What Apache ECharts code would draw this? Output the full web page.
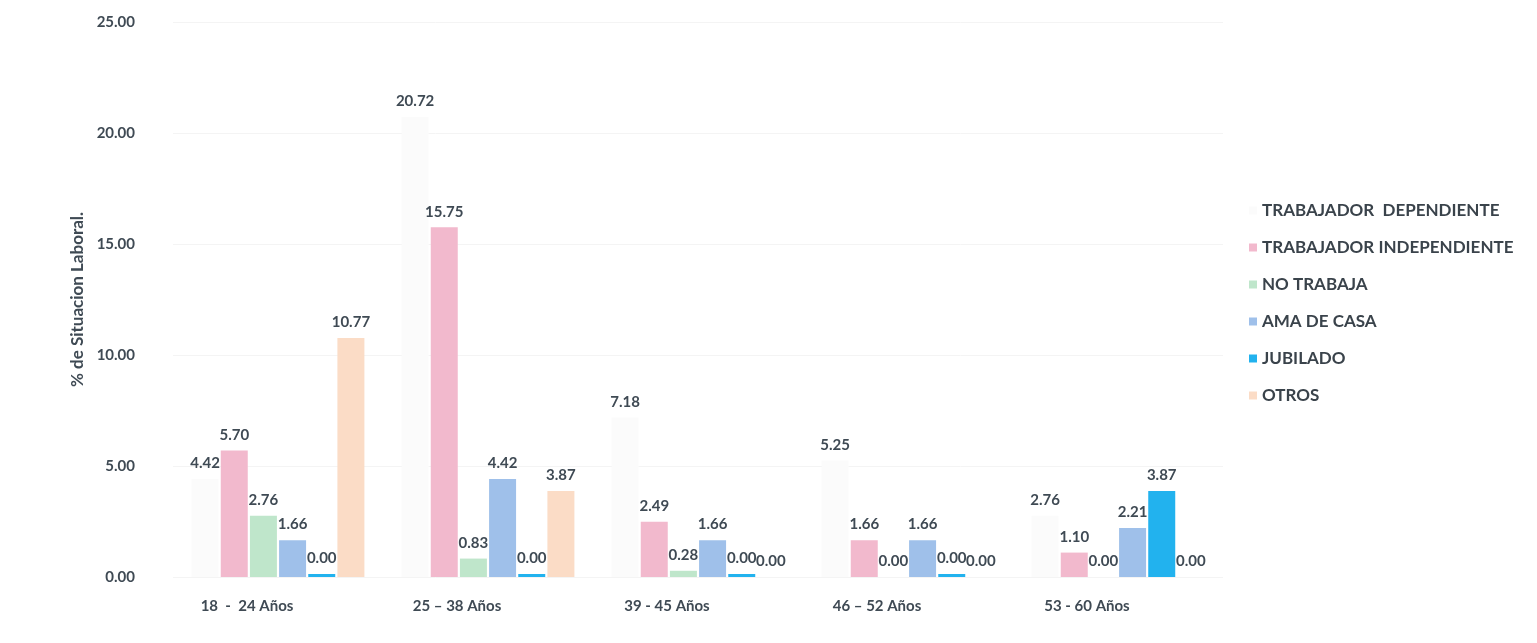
<!DOCTYPE html>
<html lang="es">
<head>
  <meta charset="UTF-8">
  <title>Situacion laboral por edad</title>
  <script src="https://cdn.jsdelivr.net/npm/echarts@6/dist/echarts.min.js"></script>
  <style>
    * { padding: 0; margin: 0; }
    body { background: #fff; }
    #box { width: 1537px; height: 643px; }
  </style>
</head>
<body>
  <div id="box"></div>
  <script>
    // grupos de edad (eje x)
    var categories = ['18  -  24 Años', '25 – 38 Años', '39 - 45 Años', '46 – 52 Años', '53 - 60 Años']
    var seriesNames = ['TRABAJADOR  DEPENDIENTE', 'TRABAJADOR INDEPENDIENTE', 'NO TRABAJA', 'AMA DE CASA', 'JUBILADO', 'OTROS']
    // valores (%)
    var dependiente = [4.42, 20.72, 7.18, 5.25, 2.76]
    var independiente = [5.70, 15.75, 2.49, 1.66, 1.10]
    var noTrabaja = [2.76, 0.83, 0.28, 0.00, 0.00]
    var amaDeCasa = [1.66, 4.42, 1.66, 1.66, 2.21]
    var jubilado = [0.00, 0.00, 0.00, 0.00, 3.87]
    var otros = [10.77, 3.87, 0.00, 0.00, 0.00]
    var yTicks = [0, 5, 10, 15, 20, 25]

    var colors = ['#fbfbfb', '#f2b9cd', '#bfe6cb', '#9fc0ea', '#22b2ee', '#fbdcc6']
    var allData = [dependiente, independiente, noTrabaja, amaDeCasa, jubilado, otros]

    var series = []
    for (let i = 0; i < allData.length; i++) {
      series.push({
        name: seriesNames[i],
        type: 'bar',
        data: allData[i],
        barWidth: 27,
        barGap: '8%',
        barMinHeight: i === 4 ? 3 : 0,
        itemStyle: { color: colors[i] },
        label: {
          show: true,
          position: 'top',
          distance: 8,
          fontFamily: 'Lato',
          fontWeight: 'bold',
          fontSize: 15,
          color: '#3f4a54',
          formatter: function (p) { return p.value.toFixed(2) }
        }
      })
    }

    var mCharts = echarts.init(document.getElementById('box'))
    var option = {
      backgroundColor: '#fff',
      animation: false,
      grid: { left: 173, right: 314, top: 22, bottom: 66 },
      legend: {
        orient: 'vertical',
        left: 1244,
        top: 197,
        itemWidth: 8,
        itemHeight: 8,
        itemGap: 20,
        icon: 'rect',
        textStyle: { fontFamily: 'Lato', fontWeight: 'bold', fontSize: 17, color: '#3a434b' },
        data: seriesNames
      },
      xAxis: {
        type: 'category',
        data: categories,
        axisLine: { show: false },
        axisTick: { show: false },
        axisLabel: {
          margin: 22,
          fontFamily: 'Lato',
          fontWeight: 'bold',
          fontSize: 15,
          color: '#3f4a54',
          padding: [0, 62, 0, 0]
        }
      },
      yAxis: {
        type: 'value',
        min: yTicks[0],
        max: yTicks[yTicks.length - 1],
        interval: 5,
        name: '% de Situacion Laboral.',
        nameLocation: 'middle',
        nameGap: 64,
        nameTextStyle: { fontFamily: 'Lato', fontWeight: 'bold', fontSize: 17, color: '#3f4a54' },
        axisLine: { show: false },
        axisTick: { show: false },
        splitLine: { lineStyle: { color: '#f4f4f4' } },
        axisLabel: {
          margin: 38,
          fontFamily: 'Lato',
          fontWeight: 'bold',
          fontSize: 15,
          color: '#3f4a54',
          formatter: function (v) { return v.toFixed(2) }
        }
      },
      series: series
    }
    mCharts.setOption(option)
  </script>
</body>
</html>
